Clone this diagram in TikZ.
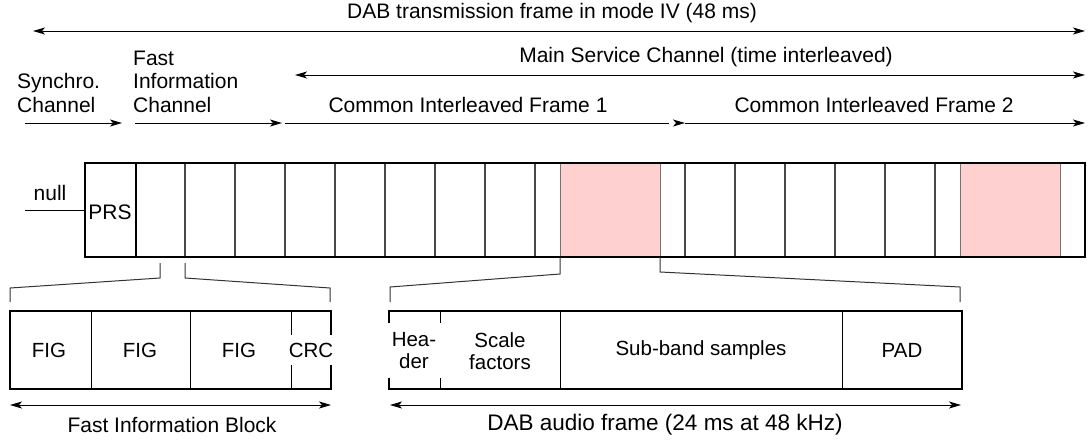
\documentclass[tikz,border=0pt]{standalone}
\usepackage{fontspec}
\setmainfont{Liberation Sans}
\usetikzlibrary{arrows.meta}
\definecolor{hatchpink}{RGB}{255,208,208}
\begin{document}
\begin{tikzpicture}[x=1pt,y=-1pt,
  lbl/.style={font=\fontsize{21}{23.5}\selectfont, inner sep=0pt},
  boxtxt/.style={font=\fontsize{20.5}{22.5}\selectfont, inner sep=0pt, align=center},
  frameline/.style={line width=2.2pt, black},
  cellline/.style={line width=1.1pt, black!72},
  boxdiv/.style={line width=1pt, black},
  brace/.style={line width=1pt, black!80},
  dim/.style={line width=1pt, black, {Stealth[length=12pt,width=7pt,inset=3pt]}-{Stealth[length=12pt,width=7pt,inset=3pt]}},
  fwd/.style={line width=1pt, black, -{Stealth[length=12pt,width=7pt,inset=3pt]}},
  hatch/.style={fill=hatchpink}
]
\useasboundingbox (0,0) rectangle (1091,439);

% ---- top labels and arrows ----
\node[lbl] (dab) at (552,13) {DAB transmission frame in mode IV (48 ms)};
\coordinate (dabL) at (33,31); \coordinate (dabR) at (1085,31);
\draw[dim] (dabL) -- (dabR);

\node[lbl] (msc) at (706,57) {Main Service Channel (time interleaved)};
\coordinate (mscL) at (295,75); \coordinate (mscR) at (1085,75);
\draw[dim] (mscL) -- (mscR);

\node[lbl, anchor=west, align=left] (sync) at (17,93) {Synchro.\\Channel};
\node[lbl, anchor=west, align=left] (fic) at (133,81.5) {Fast\\Information\\Channel};
\node[lbl] (cif1) at (468,105) {Common Interleaved Frame 1};
\node[lbl] (cif2) at (874,105) {Common Interleaved Frame 2};

\coordinate (a0) at (25,123); \coordinate (a1) at (122,123);
\coordinate (b0) at (135,123); \coordinate (b1) at (282,123);
\coordinate (c0) at (285,123); \coordinate (c1) at (685,123);
\coordinate (d0) at (685,123); \coordinate (d1) at (1085,123);
\draw[fwd] (a0) -- (a1);
\draw[fwd] (b0) -- (b1);
\draw[line width=1pt, shorten >=16pt] (c0) -- (c1);
\draw[fwd] ([xshift=-9pt]c1) -- (c1);
\draw[fwd] (d0) -- (d1);

% ---- transmission frame ----
\fill[hatch] (560,163) rectangle (660,257);
\fill[hatch] (960,163) rectangle (1060,257);
\draw[black!55, line width=0.8pt] (560,163) rectangle (660,257);
\draw[black!55, line width=0.8pt] (960,163) rectangle (1060,257);
\foreach \x in {185,235,...,535} \draw[cellline] (\x,163) -- (\x,257);
\foreach \x in {685,735,...,935} \draw[cellline] (\x,163) -- (\x,257);
\draw[frameline] (85,163) rectangle (1085,257);
\draw[frameline] (136,163) -- (136,257);

\node[lbl] (null) at (50,193) {null};
\coordinate (nullL) at (25,210); \coordinate (nullR) at (85,210);
\draw[line width=1pt] (nullL) -- (nullR);
\node[lbl] (prs) at (110,212) {PRS};

% ---- expansion braces ----
\draw[brace] (160,263) -- (160,278) -- (10,288) -- (10,302);
\draw[brace] (185,263) -- (185,278) -- (330,288) -- (330,302);
\draw[brace] (560,257) -- (560,274) -- (390,287) -- (390,302);
\draw[brace] (660,257) -- (660,272) -- (960,287) -- (960,302);

% ---- Fast Information Block ----
\foreach \x in {91,190,291} \draw[boxdiv] (\x,311) -- (\x,389);
\draw[frameline] (10,311) rectangle (331,389);
\node[boxtxt] (fig1) at (49,350) {FIG};
\node[boxtxt] (fig2) at (140,350) {FIG};
\node[boxtxt] (fig3) at (239,350) {FIG};
\node[boxtxt, fill=white, inner xsep=2.5pt, inner ysep=8pt] (crc) at (311,350) {CRC};

\coordinate (fibL) at (10,405); \coordinate (fibR) at (331,405);
\draw[dim] (fibL) -- (fibR);
\node[lbl] (fibt) at (172,425) {Fast Information Block};

% ---- DAB audio frame ----
\foreach \x in {440,560,842} \draw[boxdiv] (\x,311) -- (\x,389);
\draw[frameline] (389,311) rectangle (962,389);
\node[boxtxt, fill=white, inner xsep=5pt, inner ysep=9pt] (hdr) at (414,350.5) {Hea-\\der};
\node[boxtxt] (scf) at (500,351) {Scale\\factors};
\node[boxtxt] (sbs) at (701,350) {Sub-band samples};
\node[boxtxt] (pad) at (902,350) {PAD};

\coordinate (audL) at (390,405); \coordinate (audR) at (961,405);
\draw[dim] (audL) -- (audR);
\node[lbl, font=\fontsize{22.5}{25}\selectfont] (audt) at (665,425) {DAB audio frame (24 ms at 48 kHz)};
\end{tikzpicture}
\end{document}
